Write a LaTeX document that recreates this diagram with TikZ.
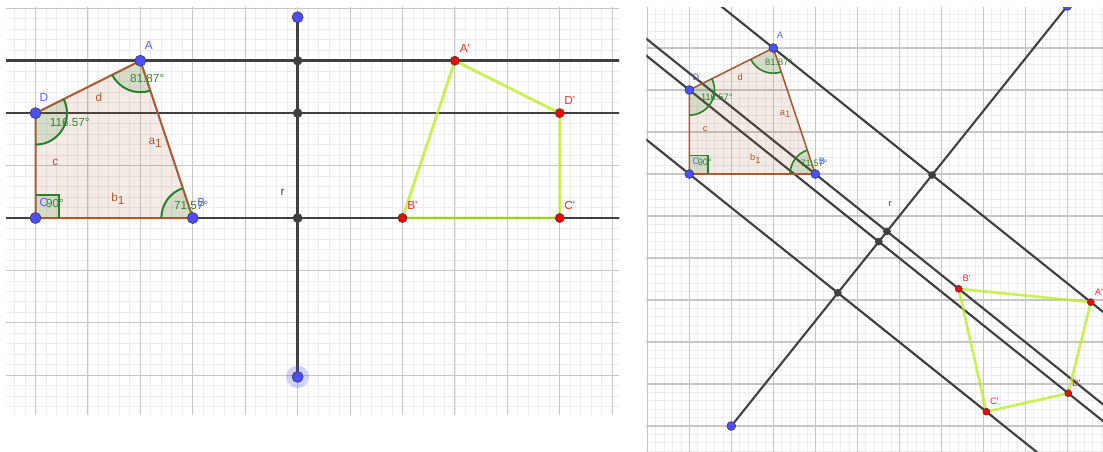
\documentclass[tikz,border=0pt]{standalone}
\usepackage{fontspec}
\setmainfont{Liberation Sans}
\usepackage{tikz}
\usetikzlibrary{calc}
\definecolor{GridMinor}{HTML}{EDEDED}
\definecolor{GridMajor}{HTML}{C6C6C6}
\definecolor{LineDark}{HTML}{404040}
\definecolor{PointBlue}{HTML}{4D4DFF}
\definecolor{LabelBlue}{HTML}{5C5CFF}
\definecolor{PointRed}{HTML}{FF0000}
\definecolor{LabelRed}{HTML}{FF2A2A}
\definecolor{PolyBrown}{HTML}{A85A32}
\definecolor{AngleGreen}{HTML}{2A7F2A}
\definecolor{AngleText}{HTML}{338533}
\definecolor{ImageLime}{HTML}{BFEC2E}
\tikzset{
  grid minor/.style={draw=GridMinor, line width=0.6pt},
  grid major/.style={draw=GridMajor, line width=0.8pt},
  line dark/.style={draw=LineDark, line width=2pt},
  quad edge/.style={draw=PolyBrown, line width=1.5pt, fill=PolyBrown, fill opacity=0.12, line join=round},
  angle sector/.style={fill=AngleGreen, fill opacity=0.15},
  angle arc/.style={draw=AngleGreen, line width=1.5pt},
  image edge/.style={draw=ImageLime, line width=2.2pt, draw opacity=0.8, line join=round},
  dot/.style={circle, inner sep=0pt, draw=black!75, line width=0.5pt},
  pt blue/.style={dot, minimum size=8.3pt, fill=PointBlue},
  pt red/.style={dot, minimum size=6.8pt, fill=PointRed},
  pt dark/.style={dot, minimum size=6.5pt, fill=LineDark},
  halo/.style={circle, inner sep=0pt, minimum size=17pt, fill=PointBlue, fill opacity=0.25},
  lbl/.style={inner sep=0pt},
  lbl blue/.style={lbl, text=LabelBlue},
  lbl red/.style={lbl, text=LabelRed},
  lbl green/.style={lbl, text=AngleText},
  lbl brown/.style={lbl, text=PolyBrown},
  lbl dark/.style={lbl, text=LineDark},
}
% quadrilateral ABCD, same in both views (grid units)
\newcommand{\quadpoints}{%
  \coordinate (A) at (2,3);
  \coordinate (B) at (3,0);
  \coordinate (C) at (0,0);
  \coordinate (D) at (0,2);
}
\newcommand{\quadfigure}{%
  \draw[quad edge] (A) -- (B) -- (C) -- (D) -- cycle;
  \foreach \v/\s/\e in {A/206.57/288.43, D/-90/26.57, B/108.43/180}{
    \fill[angle sector] (\v) -- ([shift={(\s:0.6)}]\v) arc[start angle=\s, end angle=\e, radius=0.6] -- cycle;
    \draw[angle arc] ([shift={(\s:0.6)}]\v) arc[start angle=\s, end angle=\e, radius=0.6];
  }
  \fill[angle sector] (C) rectangle ++(0.44,0.44);
  \draw[angle arc] ([shift={(0.44,0)}]C) -- ++(0,0.44) -- ++(-0.44,0);
}
\newcommand{\quadlabels}{%
  \node[lbl blue] (labC) at ([shift={(0.16,0.3)}]C) {C};
  \node[lbl green] (angA) at (2.13,2.67) {81.87°};
  \node[lbl green] (angD) at (0.655,1.825) {116.57°};
  \node[lbl green] (angC) at (0.37,0.275) {90°};
  \node[lbl green] (angB) at (2.97,0.245) {71.57°};
  \node[lbl brown] (sideD) at (1.21,2.3) {d};
  \node[lbl brown] (sideA) at (2.28,1.43) {a\raisebox{-0.5ex}{1}};
  \node[lbl brown] (sideC) at (0.38,1.07) {c};
  \node[lbl brown] (sideB) at (1.57,0.37) {b\raisebox{-0.5ex}{1}};
  \foreach \p in {A,B,D}
    \node[lbl blue] (lab\p) at ([shift={(0.16,0.3)}]\p) {\p};
}
% reflection of ABCD in the line R1R2
\newcommand{\mirrorpoints}{%
  \foreach \p in {A,B,C,D}{
    \coordinate (F\p) at ($(R1)!(\p)!(R2)$);
    \coordinate (\p p) at ($(\p)!2!(F\p)$);
  }
}
\newcommand{\mirrorlines}{%
  \foreach \p in {A,B,C,D}
    \draw[line dark] ($(\p)!-2!(\p p)$) -- ($(\p p)!-2!(\p)$);
  \draw[line dark] (R1) -- (R2);
}
\newcommand{\mirrordots}{%
  \draw[image edge] (Ap) -- (Bp) -- (Cp) -- (Dp) -- cycle;
  \foreach \p in {A,B,C,D}{
    \node[pt dark] (dotF\p) at (F\p) {};
    \node[pt red] (dot\p p) at (\p p) {};
    \node[pt blue] (dot\p) at (\p) {};
  }
  \node[pt blue] (dotR1) at (R1) {};
  \node[pt blue] (dotR2) at (R2) {};
  \quadlabels
  \foreach \p in {A,B,C,D}
    \node[lbl red] (lab\p p) at ([shift={(0.19,0.24)}]\p p) {\p\textquotesingle};
}

\begin{document}
\begin{tikzpicture}[x=0.75pt, y=-0.75pt]
  \useasboundingbox (0,0) rectangle (1103,451);

  % left view, r vertical
  \begin{scope}[shift={(35.5,218)}, x=39.32pt, y=39.32pt, font=\fontsize{8.8}{10}\selectfont]
    \clip (-0.56,-3.74) rectangle (11.13,4.01);
    \draw[grid minor, step=0.2] (-1,-4) grid (12,5);
    \draw[grid major, step=1] (-1,-4) grid (12,5);
    \quadpoints
    \coordinate (R1) at (5,-3.03);
    \coordinate (R2) at (5,3.83);
    \mirrorpoints
    \mirrorlines
    \quadfigure
    \node[halo] (haloR1) at (R1) {};
    \mirrordots
    \node[lbl dark] (labr) at (4.715,0.483) {r};
  \end{scope}

  % right view, r oblique
  \begin{scope}[shift={(689.3,174)}, x=31.5pt, y=31.5pt, font=\fontsize{7}{8}\selectfont,
      line dark/.append style={line width=1.6pt},
      quad edge/.append style={line width=1.2pt},
      angle arc/.append style={line width=1.2pt},
      image edge/.append style={line width=2pt},
      pt blue/.append style={minimum size=6.6pt},
      pt red/.append style={minimum size=5.2pt},
      pt dark/.append style={minimum size=5.2pt}]
    \clip (-1.02,-6.62) rectangle (9.85,3.96);
    \draw[grid minor, step=0.2] (-2,-7) grid (10,5);
    \draw[grid major, step=1] (-2,-7) grid (10,5);
    \quadpoints
    \coordinate (R1) at (1,-6);
    \coordinate (R2) at (9,4);
    \mirrorpoints
    \mirrorlines
    \quadfigure
    \mirrordots
    \node[lbl dark] (labr) at (4.78,-0.714) {r};
  \end{scope}
\end{tikzpicture}
\end{document}
